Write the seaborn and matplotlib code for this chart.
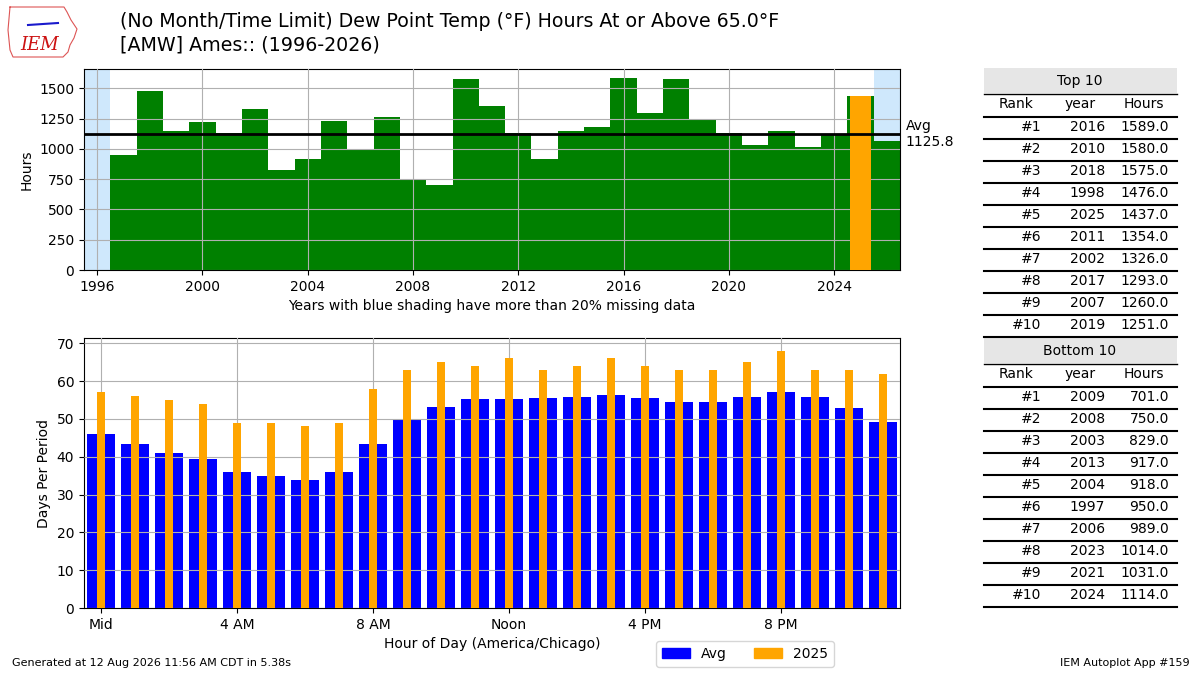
import numpy as np
import pandas as pd
import seaborn as sns
import matplotlib.pyplot as plt
import matplotlib.transforms as mtransforms
from matplotlib.patches import Patch, Rectangle
from matplotlib.lines import Line2D

# yearly hours with dew point >= 65F
years = list(range(1996, 2027))
hours_by_year = [0, 950, 1476, 1150, 1225, 1135, 1326, 829, 918, 1235,
                 989, 1260, 750, 701, 1580, 1354, 1130, 917, 1145, 1178,
                 1589, 1293, 1575, 1251, 1134, 1031, 1148, 1014, 1114, 1437,
                 1066]
missing_years = [1996, 2026]
this_year = 2025
avg_hours = 1125.8

# hour of day frequency
hours = list(range(24))
avg_days = [46.0, 43.4, 41.0, 39.3, 36.0, 34.8, 33.9, 36.0, 43.4, 49.8,
            53.2, 55.4, 55.4, 55.6, 55.9, 56.4, 55.6, 54.6, 54.6, 55.9,
            57.0, 55.9, 52.9, 49.2]
days_2025 = [57, 56, 55, 54, 49, 49, 48, 49, 58, 63, 65, 64, 66, 63, 64,
             66, 64, 63, 63, 65, 68, 63, 63, 62]
hour_ticks = [0, 4, 8, 12, 16, 20]
hour_ticklabels = ['Mid', '4 AM', '8 AM', 'Noon', '4 PM', '8 PM']

W, H = 1200, 675


def fx(x):
    return x / W


def fy(y):
    return 1 - y / H


fig = plt.figure(figsize=(12, 6.75), dpi=100)

# titles / logo
fig.text(fx(120), fy(12), "(No Month/Time Limit) Dew Point Temp (°F) Hours At or Above 65.0°F\n"
         "[AMW] Ames:: (1996-2026)", va='top', ha='left', fontsize=13.7, linespacing=1.28)
outline_x = [10, 64, 67, 71, 77, 74, 70, 68, 63, 13, 10, 8, 10]
outline_y = [7, 7, 12, 20, 29, 38, 45, 52, 57, 57, 50, 30, 7]
fig.lines.append(Line2D([fx(v) for v in outline_x], [fy(v) for v in outline_y],
                        transform=fig.transFigure, color='#dd5555', lw=0.8))
fig.lines.append(Line2D([fx(28), fx(58)], [fy(25), fy(23)], transform=fig.transFigure,
                        color='#1a1acc', lw=1.5))
fig.text(fx(40), fy(45), "IEM", color='#cc1111', fontsize=13, style='italic',
         family='DejaVu Serif', ha='center', va='center')

# ---- top panel: yearly totals
ax1 = fig.add_axes([fx(84), fy(270), fx(900 - 84), (270 - 69) / H])
for yr in missing_years:
    ax1.axvspan(yr - 0.5, yr + 0.5, color='#cfe8fc', zorder=1, lw=0)
sns.barplot(x=years, y=hours_by_year, native_scale=True, width=1.0, color='green',
            saturation=1, errorbar=None, linewidth=0, ax=ax1, zorder=2)
sns.barplot(x=[this_year], y=[hours_by_year[years.index(this_year)]], native_scale=True,
            width=0.8, color='orange', saturation=1, errorbar=None, linewidth=0,
            ax=ax1, zorder=3)
ax1.axhline(avg_hours, color='k', lw=2, zorder=4)
trans = mtransforms.blended_transform_factory(ax1.transAxes, ax1.transData)
ax1.text(1.007, avg_hours, f"Avg\n{avg_hours:.1f}", transform=trans, va='center', ha='left')
ax1.set_xlim(1995.5, 2026.5)
ax1.set_ylim(0, max(hours_by_year) * 1.045)
ax1.set_xticks(range(1996, 2027, 4))
ax1.set_xticklabels([str(y) for y in range(1996, 2027, 4)])
ax1.set_yticks(range(0, 1501, 250))
ax1.grid(True, zorder=2.5)
ax1.set_axisbelow(False)
ax1.set_ylabel("Hours")
ax1.set_xlabel("Years with blue shading have more than 20% missing data")

# ---- bottom panel: hour of day
ax2 = fig.add_axes([fx(84), fy(608), fx(900 - 84), (608 - 338) / H])
sns.barplot(x=hours, y=avg_days, native_scale=True, width=0.85, color='blue',
            saturation=1, errorbar=None, linewidth=0, ax=ax2, zorder=2)
sns.barplot(x=hours, y=days_2025, native_scale=True, width=0.26, color='orange',
            saturation=1, errorbar=None, linewidth=0, ax=ax2, zorder=3)
ax2.set_xlim(-0.5, 23.5)
ax2.set_ylim(0, max(days_2025) * 1.05)
ax2.set_xticks(hour_ticks)
ax2.set_xticklabels(hour_ticklabels)
ax2.grid(True, zorder=2.5)
ax2.set_axisbelow(False)
ax2.set_ylabel("Days Per Period")
ax2.set_xlabel("Hour of Day (America/Chicago)")

fig.legend(handles=[Patch(color='blue', label='Avg'), Patch(color='orange', label=str(this_year))],
           loc='center', bbox_to_anchor=(fx(745), fy(654)), ncol=2)

# ---- ranking tables
df = pd.DataFrame({'year': years, 'hours': hours_by_year})
df = df[~df['year'].isin(missing_years)]
top10 = df.sort_values('hours', ascending=False).head(10)
bottom10 = df.sort_values('hours', ascending=True).head(10)


def draw_table(title, data, y0):
    fig.patches.append(Rectangle((fx(984), fy(y0 + 25)), fx(1177 - 984), 25 / H,
                                 transform=fig.transFigure, facecolor='#e6e6e6',
                                 edgecolor='none', zorder=1))
    fig.text(fx(1080), fy(y0 + 13), title, ha='center', va='center')
    fig.lines.append(Line2D([fx(984), fx(1177)], [fy(y0 + 26)] * 2,
                            transform=fig.transFigure, color='k', lw=1))
    fig.text(fx(1016), fy(y0 + 36), "Rank", ha='center', va='center')
    fig.text(fx(1080), fy(y0 + 36), "year", ha='center', va='center')
    fig.text(fx(1144), fy(y0 + 36), "Hours", ha='center', va='center')
    for k in range(11):
        yy = y0 + 49 + 22 * k
        fig.lines.append(Line2D([fx(984), fx(1177)], [fy(yy)] * 2,
                                transform=fig.transFigure, color='k', lw=1.5))
    for k, (yr, hr) in enumerate(zip(data['year'], data['hours'])):
        yy = y0 + 59 + 22 * k
        fig.text(fx(1041), fy(yy), f"#{k + 1}", ha='right', va='center')
        fig.text(fx(1105), fy(yy), str(yr), ha='right', va='center')
        fig.text(fx(1169), fy(yy), f"{hr:.1f}", ha='right', va='center')


draw_table("Top 10", top10, 68)
draw_table("Bottom 10", bottom10, 338)

# footer
fig.text(fx(12), fy(663), "Generated at 12 Aug 2026 11:56 AM CDT in 5.38s", fontsize=8,
         ha='left', va='center')
fig.text(fx(1190), fy(663), "IEM Autoplot App #159", fontsize=8, ha='right', va='center')

fig.savefig('out.png', dpi=100)
